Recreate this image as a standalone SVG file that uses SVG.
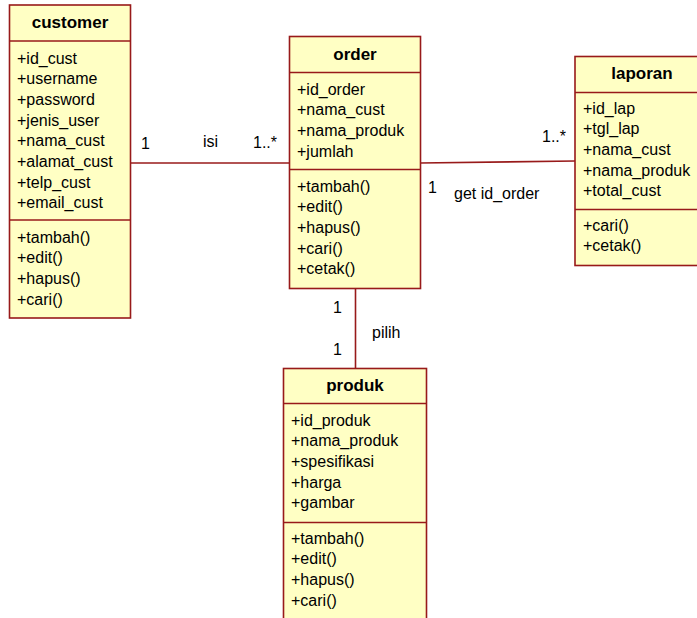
<svg xmlns="http://www.w3.org/2000/svg" width="697" height="618" viewBox="0 0 697 618">
  <style>
    .box { fill: #ffffc4; stroke: #981a1a; stroke-width: 1.6; }
    .sep { stroke: #981a1a; stroke-width: 1.6; }
    .conn { stroke: #981a1a; stroke-width: 1.6; fill: none; }
    text { font-family: "Liberation Sans", Arial, sans-serif; font-size: 16px; fill: #000; }
    .title { font-weight: bold; font-size: 17px; text-anchor: middle; }
  </style>
  <rect width="697" height="618" fill="#ffffff"/>

  <!-- associations -->
  <g id="connectors">
    <line class="conn" x1="130" y1="163" x2="289" y2="163"/>
    <line class="conn" x1="420" y1="163" x2="575" y2="161"/>
    <line class="conn" x1="355.5" y1="288" x2="355.5" y2="368"/>
    <text x="141" y="149">1</text>
    <text x="203" y="147">isi</text>
    <text x="253" y="148">1..*</text>
    <text x="542" y="142">1..*</text>
    <text x="428" y="193">1</text>
    <text x="454" y="199">get id_order</text>
    <text x="333" y="313">1</text>
    <text x="372" y="338">pilih</text>
    <text x="333" y="355">1</text>
  </g>

  <!-- customer class -->
  <g id="customer">
    <rect class="box" x="9.5" y="5" width="121" height="313"/>
    <line class="sep" x1="9.5" y1="41" x2="130.5" y2="41"/>
    <line class="sep" x1="9.5" y1="220" x2="130.5" y2="220"/>
    <text class="title" x="70" y="28">customer</text>
    <text x="17" y="63.5">+id_cust</text>
    <text x="17" y="84.2">+username</text>
    <text x="17" y="104.9">+password</text>
    <text x="17" y="125.6">+jenis_user</text>
    <text x="17" y="146.3">+nama_cust</text>
    <text x="17" y="167">+alamat_cust</text>
    <text x="17" y="187.7">+telp_cust</text>
    <text x="17" y="208.4">+email_cust</text>
    <text x="17" y="242.5">+tambah()</text>
    <text x="17" y="263.2">+edit()</text>
    <text x="17" y="283.9">+hapus()</text>
    <text x="17" y="304.6">+cari()</text>
  </g>

  <!-- order class -->
  <g id="order">
    <rect class="box" x="289.5" y="36.5" width="131" height="252"/>
    <line class="sep" x1="289.5" y1="72.5" x2="420.5" y2="72.5"/>
    <line class="sep" x1="289.5" y1="169.5" x2="420.5" y2="169.5"/>
    <text class="title" x="355" y="60">order</text>
    <text x="297" y="94.5">+id_order</text>
    <text x="297" y="115.2">+nama_cust</text>
    <text x="297" y="135.9">+nama_produk</text>
    <text x="297" y="156.6">+jumlah</text>
    <text x="297" y="191.5">+tambah()</text>
    <text x="297" y="212.2">+edit()</text>
    <text x="297" y="232.9">+hapus()</text>
    <text x="297" y="253.6">+cari()</text>
    <text x="297" y="274.3">+cetak()</text>
  </g>

  <!-- laporan class -->
  <g id="laporan">
    <rect class="box" x="575" y="56.5" width="130" height="209"/>
    <line class="sep" x1="575" y1="92.5" x2="705" y2="92.5"/>
    <line class="sep" x1="575" y1="209.5" x2="705" y2="209.5"/>
    <text class="title" x="642" y="79">laporan</text>
    <text x="583" y="113.5">+id_lap</text>
    <text x="583" y="134.2">+tgl_lap</text>
    <text x="583" y="154.9">+nama_cust</text>
    <text x="583" y="175.6">+nama_produk</text>
    <text x="583" y="196.3">+total_cust</text>
    <text x="583" y="230.5">+cari()</text>
    <text x="583" y="251.2">+cetak()</text>
  </g>

  <!-- produk class -->
  <g id="produk">
    <rect class="box" x="283.5" y="368.5" width="143" height="260"/>
    <line class="sep" x1="283.5" y1="403.5" x2="426.5" y2="403.5"/>
    <line class="sep" x1="283.5" y1="522.5" x2="426.5" y2="522.5"/>
    <text class="title" x="355" y="391">produk</text>
    <text x="291" y="425.5">+id_produk</text>
    <text x="291" y="446.2">+nama_produk</text>
    <text x="291" y="466.9">+spesifikasi</text>
    <text x="291" y="487.6">+harga</text>
    <text x="291" y="508.3">+gambar</text>
    <text x="291" y="543.5">+tambah()</text>
    <text x="291" y="564.2">+edit()</text>
    <text x="291" y="584.9">+hapus()</text>
    <text x="291" y="605.6">+cari()</text>
  </g>
</svg>
